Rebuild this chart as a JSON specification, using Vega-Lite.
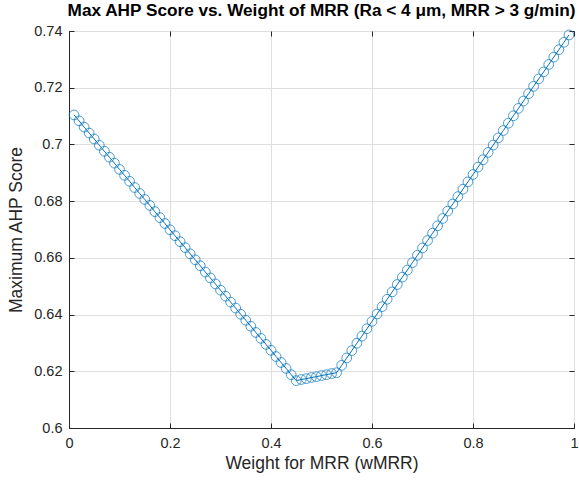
{
  "$schema": "https://vega.github.io/schema/vega-lite/v6.json",
  "width": 505,
  "height": 397,
  "autosize": {"type": "none"},
  "padding": {"left": 69, "top": 31, "right": 5, "bottom": 56},
  "background": "white",
  "config": {
    "font": "Liberation Sans",
    "view": {"stroke": "#262626", "strokeWidth": 1},
    "axis": {
      "labelFont": "Liberation Sans",
      "titleFont": "Liberation Sans",
      "labelFontSize": 14.5,
      "labelColor": "#262626",
      "titleColor": "#262626",
      "titleFontSize": 17.5,
      "titleFontWeight": "normal",
      "domainColor": "#262626",
      "tickColor": "#262626",
      "gridColor": "#dfdfdf",
      "gridOpacity": 1
    }
  },
  "title": {
    "text": "Max AHP Score vs. Weight of MRR (Ra < 4 μm, MRR > 3 g/min)",
    "font": "Liberation Sans",
    "fontSize": 17.2,
    "fontWeight": "bold",
    "color": "#000000",
    "offset": 4,
    "anchor": "middle"
  },
  "data": {"values": [
    {"w": 0.01, "score": 0.7104}, {"w": 0.02, "score": 0.7083}, {"w": 0.03, "score": 0.7061}, {"w": 0.04, "score": 0.7040}, {"w": 0.05, "score": 0.7019},
    {"w": 0.06, "score": 0.6997}, {"w": 0.07, "score": 0.6976}, {"w": 0.08, "score": 0.6955}, {"w": 0.09, "score": 0.6934}, {"w": 0.10, "score": 0.6912},
    {"w": 0.11, "score": 0.6891}, {"w": 0.12, "score": 0.6870}, {"w": 0.13, "score": 0.6848}, {"w": 0.14, "score": 0.6827}, {"w": 0.15, "score": 0.6806},
    {"w": 0.16, "score": 0.6785}, {"w": 0.17, "score": 0.6763}, {"w": 0.18, "score": 0.6742}, {"w": 0.19, "score": 0.6721}, {"w": 0.20, "score": 0.6699},
    {"w": 0.21, "score": 0.6678}, {"w": 0.22, "score": 0.6657}, {"w": 0.23, "score": 0.6636}, {"w": 0.24, "score": 0.6614}, {"w": 0.25, "score": 0.6593},
    {"w": 0.26, "score": 0.6572}, {"w": 0.27, "score": 0.6550}, {"w": 0.28, "score": 0.6529}, {"w": 0.29, "score": 0.6508}, {"w": 0.30, "score": 0.6486},
    {"w": 0.31, "score": 0.6465}, {"w": 0.32, "score": 0.6444}, {"w": 0.33, "score": 0.6423}, {"w": 0.34, "score": 0.6401}, {"w": 0.35, "score": 0.6380},
    {"w": 0.36, "score": 0.6359}, {"w": 0.37, "score": 0.6337}, {"w": 0.38, "score": 0.6316}, {"w": 0.39, "score": 0.6295}, {"w": 0.40, "score": 0.6274},
    {"w": 0.41, "score": 0.6252}, {"w": 0.42, "score": 0.6231}, {"w": 0.43, "score": 0.6210}, {"w": 0.44, "score": 0.6188}, {"w": 0.45, "score": 0.6167},
    {"w": 0.46, "score": 0.6171}, {"w": 0.47, "score": 0.6174}, {"w": 0.48, "score": 0.6178}, {"w": 0.49, "score": 0.6181}, {"w": 0.50, "score": 0.6185},
    {"w": 0.51, "score": 0.6188}, {"w": 0.52, "score": 0.6192}, {"w": 0.53, "score": 0.6195}, {"w": 0.54, "score": 0.6221}, {"w": 0.55, "score": 0.6247},
    {"w": 0.56, "score": 0.6273}, {"w": 0.57, "score": 0.6299}, {"w": 0.58, "score": 0.6324}, {"w": 0.59, "score": 0.6350}, {"w": 0.60, "score": 0.6376},
    {"w": 0.61, "score": 0.6402}, {"w": 0.62, "score": 0.6428}, {"w": 0.63, "score": 0.6454}, {"w": 0.64, "score": 0.6480}, {"w": 0.65, "score": 0.6506},
    {"w": 0.66, "score": 0.6532}, {"w": 0.67, "score": 0.6557}, {"w": 0.68, "score": 0.6583}, {"w": 0.69, "score": 0.6609}, {"w": 0.70, "score": 0.6635},
    {"w": 0.71, "score": 0.6661}, {"w": 0.72, "score": 0.6687}, {"w": 0.73, "score": 0.6713}, {"w": 0.74, "score": 0.6739}, {"w": 0.75, "score": 0.6765},
    {"w": 0.76, "score": 0.6790}, {"w": 0.77, "score": 0.6816}, {"w": 0.78, "score": 0.6842}, {"w": 0.79, "score": 0.6868}, {"w": 0.80, "score": 0.6894},
    {"w": 0.81, "score": 0.6920}, {"w": 0.82, "score": 0.6946}, {"w": 0.83, "score": 0.6972}, {"w": 0.84, "score": 0.6998}, {"w": 0.85, "score": 0.7023},
    {"w": 0.86, "score": 0.7049}, {"w": 0.87, "score": 0.7075}, {"w": 0.88, "score": 0.7101}, {"w": 0.89, "score": 0.7127}, {"w": 0.90, "score": 0.7153},
    {"w": 0.91, "score": 0.7179}, {"w": 0.92, "score": 0.7205}, {"w": 0.93, "score": 0.7231}, {"w": 0.94, "score": 0.7256}, {"w": 0.95, "score": 0.7282},
    {"w": 0.96, "score": 0.7308}, {"w": 0.97, "score": 0.7334}, {"w": 0.98, "score": 0.7360}, {"w": 0.99, "score": 0.7386}
  ]},
  "resolve": {"axis": {"x": "independent", "y": "independent"}},
  "layer": [
    {
      "mark": {"type": "line", "stroke": "#0072BD", "strokeWidth": 1, "clip": true},
      "encoding": {
        "x": {"field": "w", "type": "quantitative",
          "scale": {"domain": [0, 1], "nice": false, "zero": false},
          "axis": {"title": "Weight for MRR (wMRR)", "values": [0, 0.2, 0.4, 0.6, 0.8, 1], "format": "~g", "tickSize": -5, "labelPadding": 13, "titlePadding": 5, "grid": true, "labelFlush": false}},
        "y": {"field": "score", "type": "quantitative",
          "scale": {"domain": [0.6, 0.74], "nice": false, "zero": false},
          "axis": {"title": "Maximum AHP Score", "values": [0.6, 0.62, 0.64, 0.66, 0.68, 0.7, 0.72, 0.74], "format": "~g", "tickSize": -5, "labelPadding": 12, "titlePadding": 8, "grid": true, "labelFlush": false}}
      }
    },
    {
      "mark": {"type": "point", "shape": "circle", "filled": false, "stroke": "#0072BD", "strokeWidth": 1, "size": 95, "clip": false},
      "encoding": {
        "x": {"field": "w", "type": "quantitative",
          "axis": {"orient": "top", "title": null, "labels": false, "values": [0, 0.2, 0.4, 0.6, 0.8, 1], "tickSize": -5, "grid": false, "domain": false}},
        "y": {"field": "score", "type": "quantitative",
          "axis": {"orient": "right", "title": null, "labels": false, "values": [0.6, 0.62, 0.64, 0.66, 0.68, 0.7, 0.72, 0.74], "tickSize": -5, "grid": false, "domain": false}}
      }
    }
  ]
}
